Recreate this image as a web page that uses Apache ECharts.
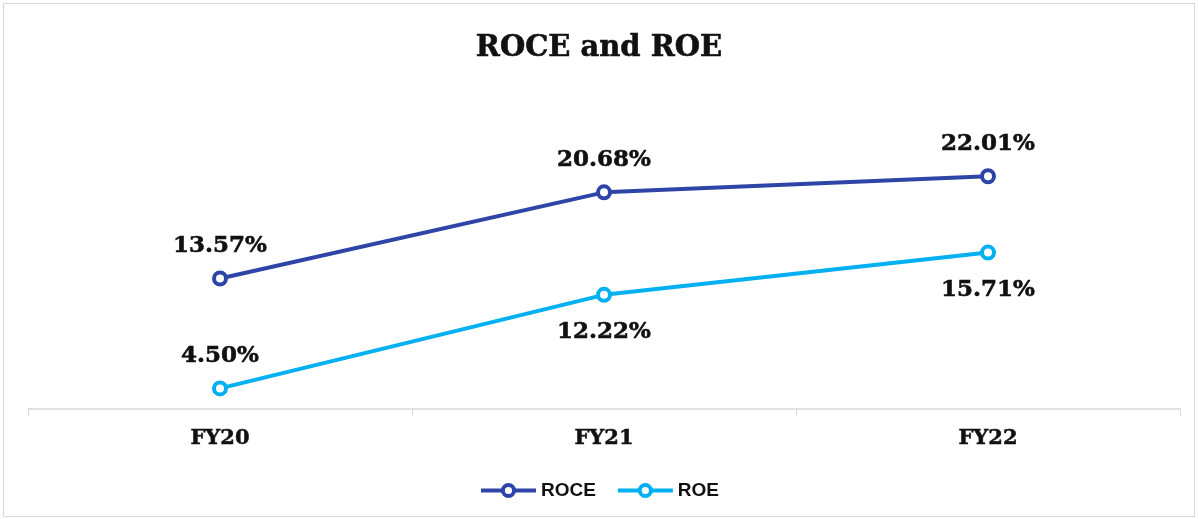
<!DOCTYPE html>
<html>
<head>
<meta charset="utf-8">
<script src="https://cdn.jsdelivr.net/npm/echarts@6/dist/echarts.min.js"></script>
<style>
  html, body { margin: 0; padding: 0; background: #fff; }
  #chart { position: absolute; left: 3px; top: 3px; width: 1192px; height: 514px; border: 1px solid #d9d9d9; box-sizing: border-box; }
</style>
</head>
<body>
<div id="chart"></div>
<script>
const years = ['FY20', 'FY21', 'FY22'];
const roce = [13.57, 20.68, 22.01];
const roe = [4.50, 12.22, 15.71];
const roeLabelPos = ['top', 'bottom', 'bottom'];

const labelStyle = {
  show: true,
  fontFamily: 'DejaVu Serif',
  fontWeight: 'bold',
  fontSize: 23,
  color: '#111',
  textBorderColor: '#111',
  textBorderWidth: 0.6,
  formatter: p => p.value.toFixed(2) + '%'
};

const chart = echarts.init(document.getElementById('chart'));
chart.setOption({
  backgroundColor: '#fff',
  title: {
    text: 'ROCE and ROE',
    left: 'center',
    top: 25,
    textStyle: { fontFamily: 'DejaVu Serif', fontWeight: 'bold', fontSize: 29, color: '#111', textBorderColor: '#111', textBorderWidth: 0.6 }
  },
  legend: {
    bottom: 11,
    left: 'center',
    itemWidth: 55,
    itemHeight: 14,
    itemGap: 20,
    textStyle: { fontFamily: 'Liberation Sans', fontWeight: 'bold', fontSize: 19, color: '#111' },
    lineStyle: { width: 4 },
    itemStyle: { borderWidth: 4 },
    data: ['ROCE', 'ROE']
  },
  grid: { left: 24, right: 14, top: 136, bottom: 107 },
  xAxis: {
    type: 'category',
    data: years,
    boundaryGap: true,
    axisLine: { lineStyle: { color: '#d9d9d9', width: 1.5 } },
    axisTick: { show: true, length: 7, lineStyle: { color: '#d9d9d9' } },
    axisLabel: { fontFamily: 'DejaVu Serif', fontWeight: 'bold', fontSize: 21, color: '#111', margin: 19, textBorderColor: '#111', textBorderWidth: 0.5 }
  },
  yAxis: {
    type: 'value',
    min: 2.8,
    max: 25,
    show: false,
    splitLine: { show: false }
  },
  series: [
    {
      name: 'ROCE',
      type: 'line',
      data: roce,
      symbol: 'circle',
      symbolSize: 12,
      lineStyle: { color: '#2E44A6', width: 4 },
      itemStyle: { color: '#fff', borderColor: '#2E44A6', borderWidth: 4 },
      label: Object.assign({ position: 'top', distance: 13 }, labelStyle)
    },
    {
      name: 'ROE',
      type: 'line',
      data: roe.map((v, i) => ({
        value: v,
        label: { position: roeLabelPos[i], distance: roeLabelPos[i] === 'top' ? 13 : 18 }
      })),
      symbol: 'circle',
      symbolSize: 12,
      lineStyle: { color: '#00B0F0', width: 4 },
      itemStyle: { color: '#fff', borderColor: '#00B0F0', borderWidth: 4 },
      label: labelStyle
    }
  ]
});
</script>
</body>
</html>
